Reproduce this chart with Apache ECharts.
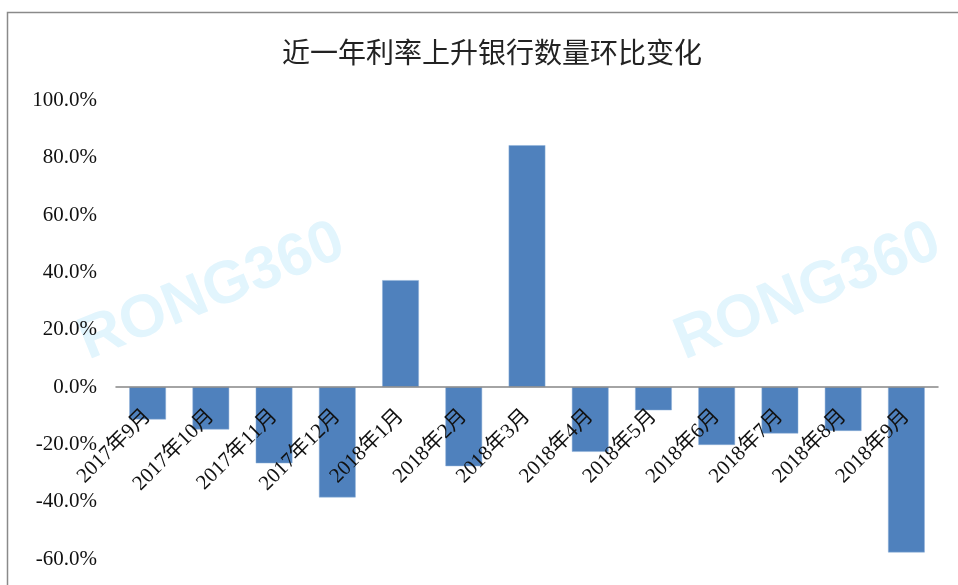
<!DOCTYPE html>
<html>
<head>
<meta charset="utf-8">
<script src="https://cdn.jsdelivr.net/npm/echarts@6/dist/echarts.min.js"></script>
<style>
html, body { margin: 0; padding: 0; background: #fff; }
#main { width: 958px; height: 585px; }
</style>
</head>
<body>
<div id="main"></div>
<script>
var months = ['2017年9月', '2017年10月', '2017年11月', '2017年12月', '2018年1月', '2018年2月', '2018年3月',
	'2018年4月', '2018年5月', '2018年6月', '2018年7月', '2018年8月', '2018年9月'];
var change = [-11.3, -14.8, -26.6, -38.5, 37.3, -27.6, 84.4, -22.6, -8.1, -20.2, -16.2, -15.3, -57.7];

var serif = '"Liberation Serif", "Noto Sans CJK SC", serif';
var wmStyle = {
	text: 'RONG360', fill: '#e2f5fd', fontSize: 60, fontWeight: 'bold',
	fontFamily: '"Liberation Sans", Arial, sans-serif', align: 'center', verticalAlign: 'middle'
};

var myChart = echarts.init(document.getElementById('main'));
var option = {
	backgroundColor: '#fff',
	animation: false,
	title: {
		text: '近一年利率上升银行数量环比变化',
		left: 487,
		top: 33,
		textAlign: 'center',
		textStyle: { fontFamily: '"Noto Sans CJK SC", sans-serif', fontSize: 28, fontWeight: 'normal', color: '#222' }
	},
	graphic: [
		{
			type: 'rect',
			shape: { x: 7.5, y: 12.5, width: 1000, height: 700 },
			style: { fill: null, stroke: '#8a8a8a', lineWidth: 1.5 },
			silent: true
		},
		{ type: 'text', x: 212, y: 292, rotation: 22 * Math.PI / 180, style: wmStyle, silent: true, z: -1 },
		{ type: 'text', x: 808, y: 292, rotation: 22 * Math.PI / 180, style: wmStyle, silent: true, z: -1 }
	],
	grid: { left: 116, right: 20, top: 100.5, bottom: 26, outerBoundsMode: 'none' },
	xAxis: {
		type: 'category',
		data: months,
		position: 'bottom',
		offset: -172,
		z: 10,
		axisLine: { onZero: false, lineStyle: { color: '#868686', width: 1.5 } },
		axisTick: { show: false },
		axisLabel: { interval: 0, rotate: 45, margin: 26, fontSize: 21, color: '#111', fontFamily: serif }
	},
	yAxis: {
		type: 'value',
		min: -60,
		max: 100,
		interval: 20,
		axisLine: { show: false },
		axisTick: { show: false },
		splitLine: { show: false },
		axisLabel: {
			margin: 19, fontSize: 21, color: '#111', fontFamily: serif, padding: [7, 0, 0, 0],
			formatter: function (v) { return v.toFixed(1) + '%'; }
		}
	},
	series: [
		{
			type: 'bar',
			data: change,
			barCategoryGap: '42%',
			itemStyle: { color: '#4F81BD', borderColor: '#8eb0d8', borderWidth: 0.5 },
			z: 1
		}
	]
};
myChart.setOption(option);
</script>
</body>
</html>
